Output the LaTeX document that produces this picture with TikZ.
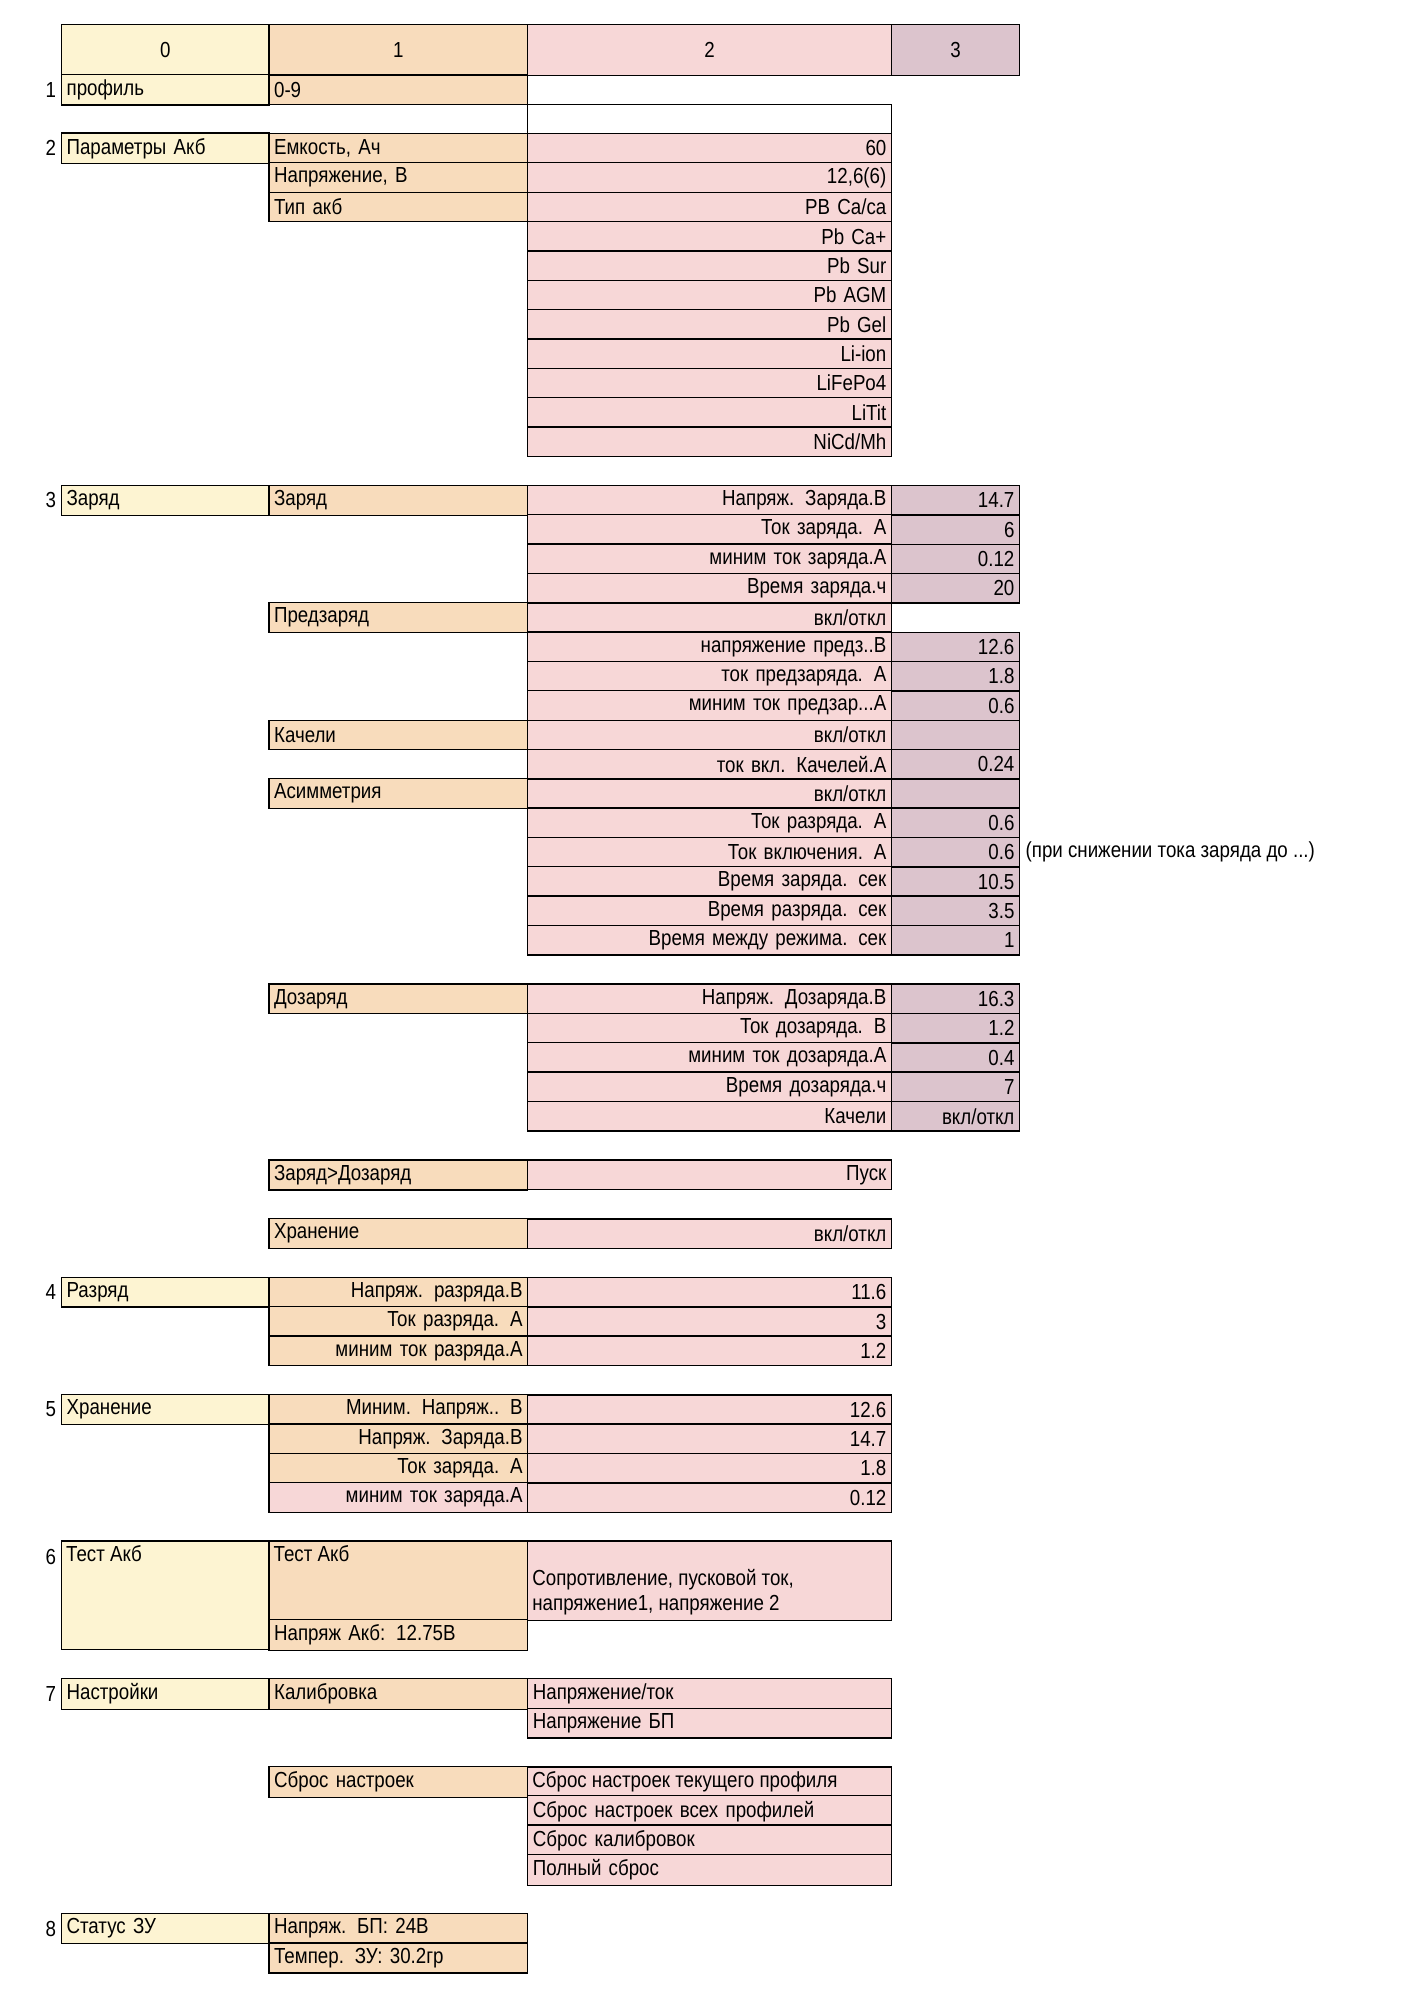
\documentclass[tikz,border=0pt]{standalone}
\usepackage{fontspec}
\setmainfont{Liberation Sans}[FakeStretch=0.86]
\usetikzlibrary{positioning}
\definecolor{colA}{HTML}{FDF4D2}
\definecolor{colB}{HTML}{F8DCBC}
\definecolor{colC}{HTML}{F7D7D7}
\definecolor{colD}{HTML}{DCC4CD}
\tikzset{
  cell/.style={draw,line width=1.1pt,minimum height=23pt,inner sep=4pt,font=\fontsize{17}{19}\selectfont},
  c0/.style={cell,fill=colA,minimum width=162pt,text width=154pt},
  c1/.style={cell,fill=colB,minimum width=202pt,text width=194pt},
  c2/.style={cell,fill=colC,minimum width=284pt,text width=276pt},
  c3/.style={cell,fill=colD,minimum width=100pt,text width=92pt},
  r/.style={align=right},
  l/.style={align=left},
  num/.style={anchor=east,inner sep=0pt,font=\fontsize{17}{19}\selectfont},
  txt/.style={inner sep=4pt,font=\fontsize{17}{19}\selectfont}
}
\begin{document}
\begin{tikzpicture}[x=1pt,y=-1pt]
\useasboundingbox (0,0) rectangle (1110,1574);

  % header
  \node[c0,align=center,minimum height=40pt] (h0) at (129,39) {0};
  \node[c1,align=center,minimum height=40pt] (h1) at (311,39) {1};
  \node[c2,align=center,minimum height=40pt] (h2) at (554,39) {2};
  \node[c3,align=center,minimum height=40pt] (h3) at (746,39) {3};

  % 1
  \node[num] (n1) at (44,70) {1};
  \node[c0,l] (prof) at (129,70) {профиль};
  \node[c1,l] (prof1) at (311,70) {0-9};
  \node[cell,minimum width=284pt] (blank) at (554,92.9) {};

  % 2
  \node[num] (n2) at (44,115.8) {2};
  \node[c0,l] (akb) at (129,115.8) {Параметры Акб};
  \node[c1,l] (cap) at (311,115.8) {Емкость, Ач};
  \node[c2,r] (capv) at (554,115.8) {60};
  \node[c1,l] (volt) at (311,138.7) {Напряжение, В};
  \node[c2,r] (voltv) at (554,138.7) {12,6(6)};
  \node[c1,l] (type) at (311,161.6) {Тип акб};
  \foreach \t [count=\i from 0] in {PB Ca/ca,Pb Ca+,Pb Sur,Pb AGM,Pb Gel,Li-ion,LiFePo4,LiTit,NiCd/Mh}
    \node[c2,r] (type\i) at (554,161.6+22.9*\i) {\t};

  % 3
  \node[num] (n3) at (44,390.6) {3};
  \node[c0,l] (chg) at (129,390.6) {Заряд};
  \node[c1,l] (chg1) at (311,390.6) {Заряд};
  \foreach \a/\b [count=\i from 0] in {Напряж. Заряда.В/14.7,Ток заряда. А/6,миним ток заряда.А/0.12,Время заряда.ч/20}{
    \node[c2,r] (chgA\i) at (554,390.6+22.9*\i) {\a};
    \node[c3,r] (chgB\i) at (746,390.6+22.9*\i) {\b};
  }
  \node[c1,l] (pre) at (311,482.2) {Предзаряд};
  \node[c2,r] (pre0) at (554,482.2) {вкл/откл};
  \foreach \a/\b [count=\i from 1] in {напряжение предз..В/12.6,ток предзаряда. А/1.8,{миним ток предзар..{}.А}/0.6}{
    \node[c2,r] (preA\i) at (554,482.2+22.9*\i) {\a};
    \node[c3,r] (preB\i) at (746,482.2+22.9*\i) {\b};
  }
  \node[c1,l] (swing) at (311,573.8) {Качели};
  \node[c2,r] (swingA0) at (554,573.8) {вкл/откл};
  \node[c3] (swingB0) at (746,573.8) {};
  \node[c2,r] (swingA1) at (554,596.7) {ток вкл. Качелей.А};
  \node[c3,r] (swingB1) at (746,596.7) {0.24};
  \node[c1,l] (asym) at (311,619.6) {Асимметрия};
  \node[c2,r] (asymA0) at (554,619.6) {вкл/откл};
  \node[c3] (asymB0) at (746,619.6) {};
  \foreach \a/\b [count=\i from 1] in {Ток разряда. А/0.6,Ток включения. А/0.6,Время заряда. сек/10.5,Время разряда. сек/3.5,Время между режима. сек/1}{
    \node[c2,r] (asymA\i) at (554,619.6+22.9*\i) {\a};
    \node[c3,r] (asymB\i) at (746,619.6+22.9*\i) {\b};
  }
  \node[txt,anchor=west] (note) at (asymB2.east) {(при снижении тока заряда до ...)};

  \node[c1,l] (add) at (311,779.9) {Дозаряд};
  \foreach \a/\b [count=\i from 0] in {Напряж. Дозаряда.В/16.3,Ток дозаряда. В/1.2,миним ток дозаряда.А/0.4,Время дозаряда.ч/7,Качели/{вкл/откл}}{
    \node[c2,r] (addA\i) at (554,779.9+22.9*\i) {\a};
    \node[c3,r] (addB\i) at (746,779.9+22.9*\i) {\b};
  }
  \node[c1,l] (chain) at (311,917.3) {Заряд>Дозаряд};
  \node[c2,r] (chainv) at (554,917.3) {Пуск};
  \node[c1,l] (store) at (311,963.1) {Хранение};
  \node[c2,r] (storev) at (554,963.1) {вкл/откл};

  % 4
  \node[num] (n4) at (44,1008.9) {4};
  \node[c0,l] (dis) at (129,1008.9) {Разряд};
  \foreach \a/\b [count=\i from 0] in {Напряж. разряда.В/11.6,Ток разряда. А/3,миним ток разряда.А/1.2}{
    \node[c1,r] (disA\i) at (311,1008.9+22.9*\i) {\a};
    \node[c2,r] (disB\i) at (554,1008.9+22.9*\i) {\b};
  }

  % 5
  \node[num] (n5) at (44,1100.5) {5};
  \node[c0,l] (keep) at (129,1100.5) {Хранение};
  \foreach \a/\b [count=\i from 0] in {Миним. Напряж.. В/12.6,Напряж. Заряда.В/14.7,Ток заряда. А/1.8}{
    \node[c1,r] (keepA\i) at (311,1100.5+22.9*\i) {\a};
    \node[c2,r] (keepB\i) at (554,1100.5+22.9*\i) {\b};
  }
  \node[c1,r,fill=colC] (keepA3) at (311,1169.2) {миним ток заряда.А};
  \node[c2,r] (keepB3) at (554,1169.2) {0.12};

  % 6
  \node[num] (n6) at (44,1216) {6};
  \node[c0,minimum height=85pt] (test) at (129,1245.5) {};
  \node[txt,anchor=north west] (testt) at (test.north west) {Тест Акб};
  \node[c1,minimum height=62pt] (test1) at (311,1234) {};
  \node[txt,anchor=north west] (test1t) at (test1.north west) {Тест Акб};
  \node[c1,l] (testv) at (311,1276.5) {Напряж Акб: 12.75В};
  \node[c2,minimum height=62pt] (test2) at (554,1234) {};
  \node[txt,anchor=west,align=left] (test2t) at ([yshift=-9pt]test2.west) {Сопротивление, пусковой ток,\\напряжение1, напряжение 2};

  % 7
  \node[num] (n7) at (44,1322.5) {7};
  \node[c0,l] (set) at (129,1322.5) {Настройки};
  \node[c1,l] (cal) at (311,1322.5) {Калибровка};
  \node[c2,l] (calA0) at (554,1322.5) {Напряжение/ток};
  \node[c2,l] (calA1) at (554,1345.4) {Напряжение БП};
  \node[c1,l] (reset) at (311,1391.2) {Сброс настроек};
  \node[c2] (resA0) at (554,1391.2) {};
  \node[txt,anchor=west] (resA0t) at (resA0.west) {Сброс настроек текущего профиля};
  \foreach \a [count=\i from 1] in {Сброс настроек всех профилей,Сброс калибровок,Полный сброс}
    \node[c2,l] (resA\i) at (554,1391.2+22.9*\i) {\a};

  % 8
  \node[num] (n8) at (44,1505.7) {8};
  \node[c0,l] (stat) at (129,1505.7) {Статус ЗУ};
  \node[c1,l] (psu) at (311,1505.7) {Напряж. БП: 24В};
  \node[c1,l] (temp) at (311,1528.6) {Темпер. ЗУ: 30.2гр};

\end{tikzpicture}
\end{document}
